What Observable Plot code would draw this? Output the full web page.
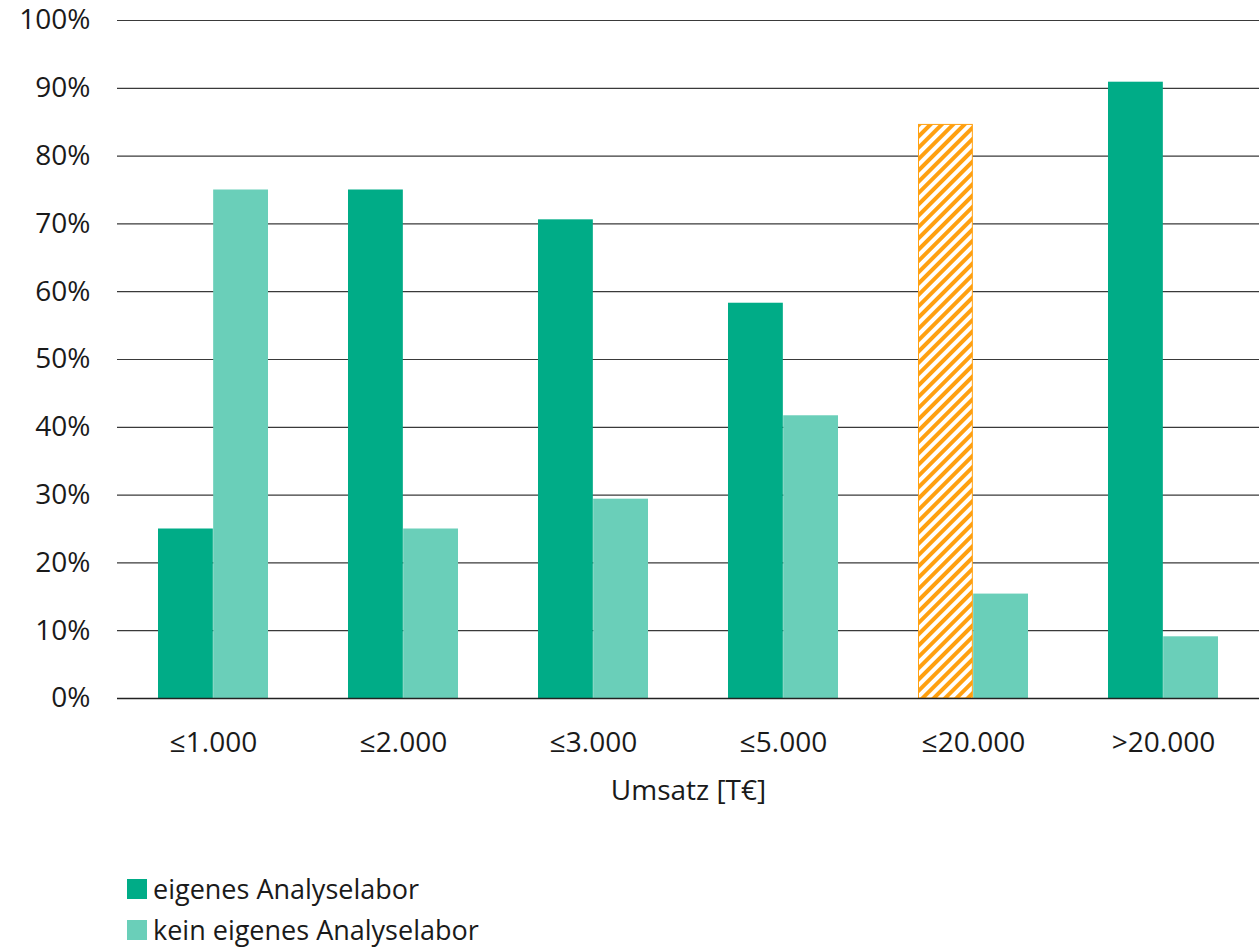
<!DOCTYPE html>
<html>
<head>
<meta charset="utf-8">
<script src="https://cdn.jsdelivr.net/npm/d3@7"></script>
<script src="https://cdn.jsdelivr.net/npm/@observablehq/plot@0.6"></script>
<style>
  html, body { margin: 0; padding: 0; background: #fff; }
  body { width: 1259px; height: 947px; overflow: hidden; font-family: "Open Sans", sans-serif; color: #1a1a1a; }
  #legend { padding-left: 127px; padding-top: 38px; font-size: 27px; }
  .item { display: flex; align-items: center; height: 41px; line-height: 41px; }
  .sw { width: 20px; height: 20px; margin-right: 6px; }
</style>
</head>
<body>
<div id="chart"></div>
<div id="legend"></div>
<script>
const categories = ["≤1.000", "≤2.000", "≤3.000", "≤5.000", "≤20.000", ">20.000"];
const eigenes = [25, 75, 70.6, 58.3, 84.6, 90.9];
const kein = [75, 25, 29.4, 41.7, 15.4, 9.1];
const seriesNames = ["eigenes Analyselabor", "kein eigenes Analyselabor"];
const seriesColors = ["#00ac87", "#6acfb9"];
const hatchedCategory = "≤20.000";
const hatchColor = "#ffa010";
const yTicks = [0, 10, 20, 30, 40, 50, 60, 70, 80, 90, 100];
const xTitle = "Umsatz [T€]";

const dataE = categories.map((c, i) => ({cat: c, v: eigenes[i]}));
const dataK = categories.map((c, i) => ({cat: c, v: kein[i]}));

const font = "28px";
const half = (1259 - 117) / 12;
const plot = Plot.plot({
  width: 1259,
  height: 830,
  marginLeft: 117,
  marginRight: 0,
  marginTop: 20,
  marginBottom: 132,
  style: {fontFamily: "'Open Sans', sans-serif", fontSize: font, color: "#1a1a1a", background: "#fff"},
  x: {domain: categories, padding: 0},
  y: {domain: [0, 100]},
  marks: [
    Plot.ruleY(yTicks, {stroke: "#3a3a3a", strokeWidth: 1.2}),
    Plot.barY(dataE.filter(d => d.cat !== hatchedCategory), {x: "cat", y: "v", fill: seriesColors[0], insetLeft: 40, insetRight: half}),
    Plot.barY(dataE.filter(d => d.cat === hatchedCategory), {x: "cat", y: "v", fill: "url(#hatch)", stroke: hatchColor, strokeWidth: 1, insetLeft: 40.5, insetRight: half + 0.5}),
    Plot.barY(dataK, {x: "cat", y: "v", fill: seriesColors[1], insetLeft: half, insetRight: 40}),
    Plot.ruleY([0], {stroke: "#222", strokeWidth: 1.5}),
    Plot.axisY({ticks: yTicks, tickFormat: d => d + "%", tickSize: 0, tickPadding: 27, label: null, fontSize: font}),
    Plot.axisX({tickSize: 0, tickPadding: 34, label: null, fontSize: font}),
    Plot.text([xTitle], {frameAnchor: "bottom", dy: 101, fontSize: font, fill: "#1a1a1a"})
  ]
});

const svg = d3.select(plot);
const defs = svg.insert("defs", ":first-child");
const pat = defs.append("pattern")
  .attr("id", "hatch")
  .attr("patternUnits", "userSpaceOnUse")
  .attr("width", 8).attr("height", 8)
  .attr("patternTransform", "rotate(45)");
pat.append("rect").attr("width", 8).attr("height", 8).attr("fill", "#fff");
pat.append("rect").attr("width", 4).attr("height", 8).attr("fill", hatchColor);

document.getElementById("chart").appendChild(plot);

const legend = d3.select("#legend");
seriesNames.forEach((n, i) => {
  const it = legend.append("div").attr("class", "item");
  it.append("div").attr("class", "sw").style("background", seriesColors[i]);
  it.append("span").text(n);
});
</script>
</body>
</html>
